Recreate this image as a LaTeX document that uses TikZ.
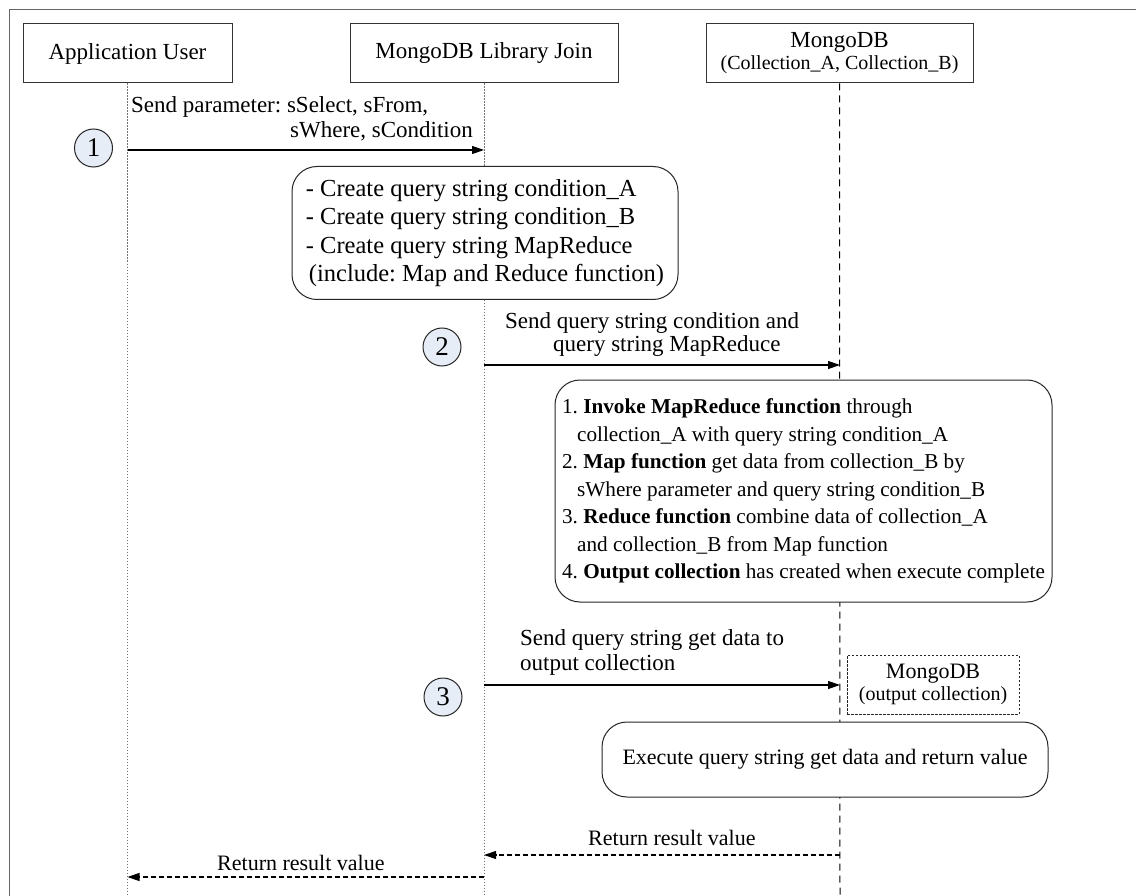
\documentclass[tikz,border=0pt]{standalone}
\usepackage{fontspec}
\setmainfont{Liberation Serif}
\usetikzlibrary{arrows.meta}
\definecolor{numfill}{RGB}{230,237,247}
\frenchspacing
\begin{document}
\frenchspacing
\begin{tikzpicture}[x=1pt,y=-1pt,
  every node/.style={font=\fontsize{22}{27}\selectfont},
  hdr/.style={draw=black!80, line width=1pt, fill=white, inner sep=0pt, align=center, minimum height=59pt},
  lifedot/.style={draw=black!55, line width=0.9pt, dash pattern=on 1.5pt off 1.5pt},
  lifedash/.style={draw=black, line width=1pt, dash pattern=on 7pt off 5pt},
  msg/.style={draw=black, line width=1.1pt, -{Triangle[length=12pt,width=8pt]}},
  ret/.style={draw=black, line width=1.1pt, dash pattern=on 5pt off 3pt, -{Triangle[length=12pt,width=8pt]}},
  act/.style={draw=black!85, line width=1pt, rounded corners=25pt, fill=white, inner sep=0pt, align=left},
  num/.style={circle, draw=black!85, line width=1pt, fill=numfill, minimum size=38pt, inner sep=0pt, font=\fontsize{27}{27}\selectfont},
  lbl/.style={inner sep=0pt, anchor=base west, align=left},
]
\useasboundingbox (0,0) rectangle (1136,896);
\fill[white] (0,0) rectangle (1136,896);
% frame
\draw[black!60, line width=0.9pt] (9,900) -- (9,9) -- (1140,9);

% headers
\node[hdr, minimum width=209pt, font=\fontsize{23}{25}\selectfont] (app) at (127.5,53.5) {Application User};
\node[hdr, minimum width=268pt, font=\fontsize{23}{25}\selectfont] (lib) at (484,53.5) {MongoDB Library Join};
\node[hdr, minimum width=267pt, font=\fontsize{23}{25}\selectfont] (db) at (839.5,53.5) {MongoDB\\[-3pt]{\fontsize{20}{22}\selectfont (Collection\_A, Collection\_B)}};

% lifeline ends
\coordinate (appEnd) at (127.5,900);
\coordinate (libEnd) at (484,900);
\coordinate (dbEnd) at (840,900);
\draw[lifedot] (app.south) -- (appEnd);
\draw[lifedot] (lib.south) -- (libEnd);
\draw[lifedash] (db.south) -- (dbEnd);

% message points on lifelines
\coordinate (a1) at (127.5,150); \coordinate (b1) at (484,150);
\coordinate (b2) at (484,365);   \coordinate (c2) at (840,365);
\coordinate (b3) at (484,685);   \coordinate (c3) at (840,685);
\coordinate (c4) at (840,855);   \coordinate (b4) at (484,855);
\coordinate (b5) at (484,877);   \coordinate (a5) at (127.5,877);

% step 1
\node[num] (n1) at (93.5,148) {1};
\draw[msg] (a1) -- (b1);
\node[lbl, font=\fontsize{23}{25}\selectfont] (l1) at (131,138) {Send parameter: sSelect, sFrom,\\\hspace*{159pt}sWhere, sCondition};

\node[act, minimum width=386pt, minimum height=133pt, font=\fontsize{24.5}{28.5}\selectfont] (box1) at (485,233)
 {- Create query string condition\_A\\- Create query string condition\_B\\- Create query string MapReduce\\\hspace*{3pt}(include: Map and Reduce function)};

% step 2
\node[num] (n2) at (442,347) {2};
\draw[msg] (b2) -- (c2);
\node[lbl, font=\fontsize{23}{24}\selectfont] (l2) at (505,352) {Send query string condition and\\\hspace*{48pt}query string MapReduce};

\node[act, minimum width=497pt, minimum height=222pt, font=\fontsize{21.2}{27.5}\selectfont] (box2) at (803.5,491)
 {1. \textbf{Invoke MapReduce function} through\\
  \hspace*{15pt}collection\_A with query string condition\_A\\
  2. \textbf{Map function} get data from collection\_B by\\
  \hspace*{15pt}sWhere parameter and query string condition\_B\\
  3. \textbf{Reduce function} combine data of collection\_A\\
  \hspace*{15pt}and collection\_B from Map function\\
  4. \textbf{Output collection} has created when execute complete};

% step 3
\node[num] (n3) at (443,697) {3};
\draw[msg] (b3) -- (c3);
\node[lbl, font=\fontsize{23}{25}\selectfont] (l3) at (520,670) {Send query string get data to\\output collection};

\node[draw=black!85, line width=0.8pt, dash pattern=on 2.5pt off 1.5pt, minimum width=172pt, minimum height=59pt, inner sep=0pt, align=center, font=\fontsize{22}{24}\selectfont] (out) at (933,684.5)
 {MongoDB\\[-2pt]{\fontsize{20}{21}\selectfont (output collection)}};

\node[act, align=center, minimum width=446pt, minimum height=75pt] (box3) at (825,759.5) {Execute query string get data and return value};

% returns
\draw[ret] (c4) -- (b4);
\node[lbl] (l4) at (588,845) {Return result value};
\draw[ret] (b5) -- (a5);
\node[lbl] (l5) at (217,870) {Return result value};
\end{tikzpicture}
\end{document}
